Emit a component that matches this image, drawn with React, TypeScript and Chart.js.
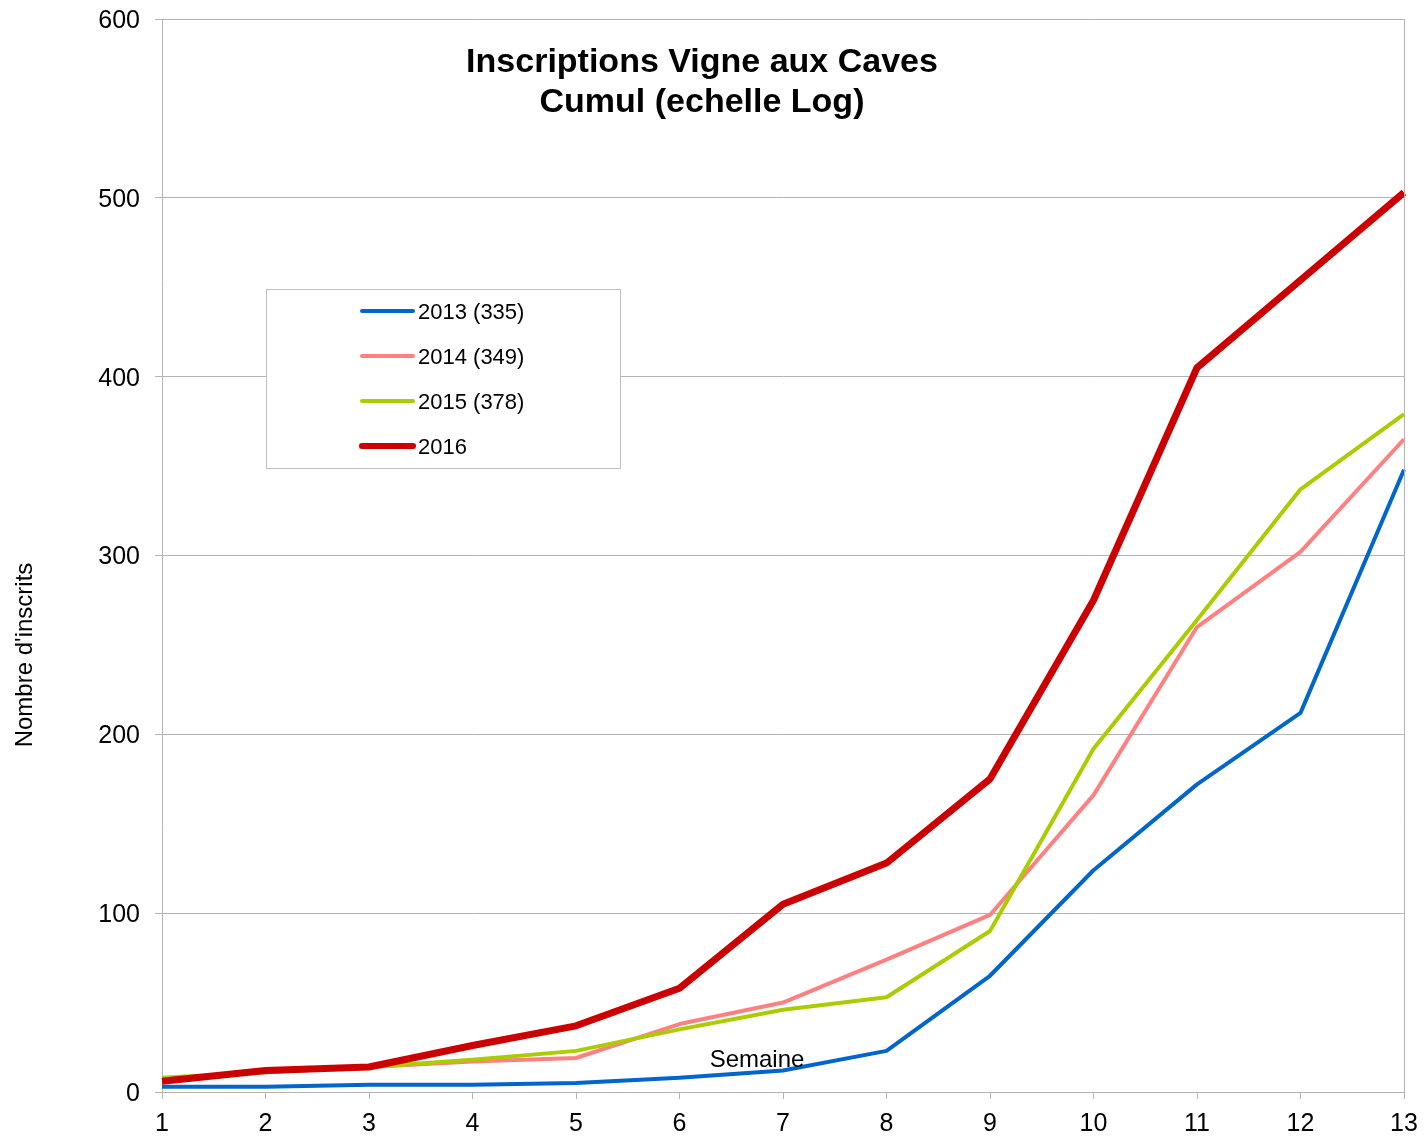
import React, { useEffect, useRef } from "react";
import { Chart, registerables } from "chart.js";

Chart.register(...registerables);

const weeks = ["1", "2", "3", "4", "5", "6", "7", "8", "9", "10", "11", "12", "13"];
const yTicks = [0, 100, 200, 300, 400, 500, 600];
const s2013 = [3, 3, 4, 4, 5, 8, 12, 23, 65, 124, 172, 212, 348];
const s2014 = [7, 11, 14, 17, 19, 38, 50, 74, 99, 166, 260, 302, 365];
const s2015 = [8, 11, 14, 18, 23, 35, 46, 53, 90, 192, 264, 337, 379];
const s2016 = [6, 12, 14, 26, 37, 58, 105, 128, 175, 275, 405, 454, 503];
const seriesLabels = ["2013 (335)", "2014 (349)", "2015 (378)", "2016"];
const seriesColors = ["#0066cc", "#ff8080", "#aacc00", "#cc0000"];
const seriesWidths = [4, 4, 4, 7];
const titleLines = ["Inscriptions Vigne aux Caves", "Cumul (echelle Log)"];
const xTitle = "Semaine";
const yTitle = "Nombre d'inscrits";

const FONT = "'Liberation Sans', Arial, Helvetica, sans-serif";

const overlayPlugin = {
  id: "overlay",
  afterDatasetsDraw(chart: any) {
    const ctx = chart.ctx;
    const area = chart.chartArea;
    ctx.save();
    ctx.strokeStyle = "#b3b3b3";
    ctx.lineWidth = 1;
    ctx.beginPath();
    ctx.moveTo(area.right + 0.5, area.top);
    ctx.lineTo(area.right + 0.5, area.bottom);
    ctx.stroke();

    ctx.fillStyle = "#000";
    ctx.font = `bold 34px ${FONT}`;
    ctx.textAlign = "center";
    ctx.textBaseline = "middle";
    ctx.fillText(titleLines[0], 702, 63);
    ctx.fillText(titleLines[1], 702, 103);

    ctx.font = `24px ${FONT}`;
    ctx.fillText(xTitle, 757, 1060);

    ctx.save();
    ctx.translate(25, 655);
    ctx.rotate(-Math.PI / 2);
    ctx.fillText(yTitle, 0, 0);
    ctx.restore();

    ctx.fillStyle = "#ffffff";
    ctx.fillRect(266.5, 289.5, 354, 179);
    ctx.strokeStyle = "#c0c0c0";
    ctx.lineWidth = 1;
    ctx.strokeRect(266.5, 289.5, 354, 179);
    ctx.lineCap = "round";
    ctx.textAlign = "left";
    ctx.font = `22px ${FONT}`;
    seriesLabels.forEach((lab, i) => {
      const y = 311 + i * 45;
      ctx.strokeStyle = seriesColors[i];
      ctx.lineWidth = i === 3 ? 6 : 4;
      ctx.beginPath();
      ctx.moveTo(362, y);
      ctx.lineTo(413, y);
      ctx.stroke();
      ctx.fillStyle = "#000";
      ctx.fillText(lab, 418, y + 2);
    });
    ctx.restore();
  },
};

export default function App() {
  const ref = useRef<HTMLCanvasElement | null>(null);
  useEffect(() => {
    if (!ref.current) return;
    const all = [s2013, s2014, s2015, s2016];
    const chart = new Chart(ref.current, {
      type: "line",
      data: {
        labels: weeks,
        datasets: all.map((d, i) => ({
          label: seriesLabels[i],
          data: d,
          borderColor: seriesColors[i],
          backgroundColor: seriesColors[i],
          borderWidth: seriesWidths[i],
          pointRadius: 0,
          tension: 0,
          fill: false,
          order: 3 - i,
          borderJoinStyle: "round" as const,
        })),
      },
      options: {
        animation: false,
        responsive: false,
        maintainAspectRatio: false,
        layout: { padding: { top: 19, right: 21, left: 0, bottom: 0 } },
        plugins: {
          legend: { display: false },
          title: { display: false },
          tooltip: { enabled: false },
        },
        scales: {
          x: {
            type: "category",
            offset: false,
            grid: {
              drawOnChartArea: false,
              drawTicks: true,
              tickLength: 7,
              color: "#b3b3b3",
            },
            border: { color: "#b3b3b3" },
            ticks: {
              color: "#000",
              font: { family: FONT, size: 25 },
              padding: 10,
              maxRotation: 0,
              autoSkip: false,
            },
            afterFit(scale: any) {
              scale.height = 46;
              scale.paddingLeft = 0;
              scale.paddingRight = 0;
            },
          },
          y: {
            min: 0,
            max: 600,
            afterBuildTicks(scale: any) {
              scale.ticks = yTicks.map((v) => ({ value: v }));
            },
            grid: {
              color: "#b3b3b3",
              tickLength: 7,
              drawTicks: true,
            },
            border: { color: "#b3b3b3" },
            ticks: {
              color: "#000",
              font: { family: FONT, size: 25 },
              padding: 15,
              labelOffset: 2,
            },
            afterFit(scale: any) {
              scale.width = 162;
              scale.paddingTop = 0;
              scale.paddingBottom = 0;
            },
          },
        },
      },
      plugins: [overlayPlugin],
    });
    return () => chart.destroy();
  }, []);
  return (
    <div style={{ position: "fixed", left: 0, top: 0, width: 1425, height: 1138, background: "#fff" }}>
      <canvas ref={ref} width={1425} height={1138} style={{ width: 1425, height: 1138 }} />
    </div>
  );
}
